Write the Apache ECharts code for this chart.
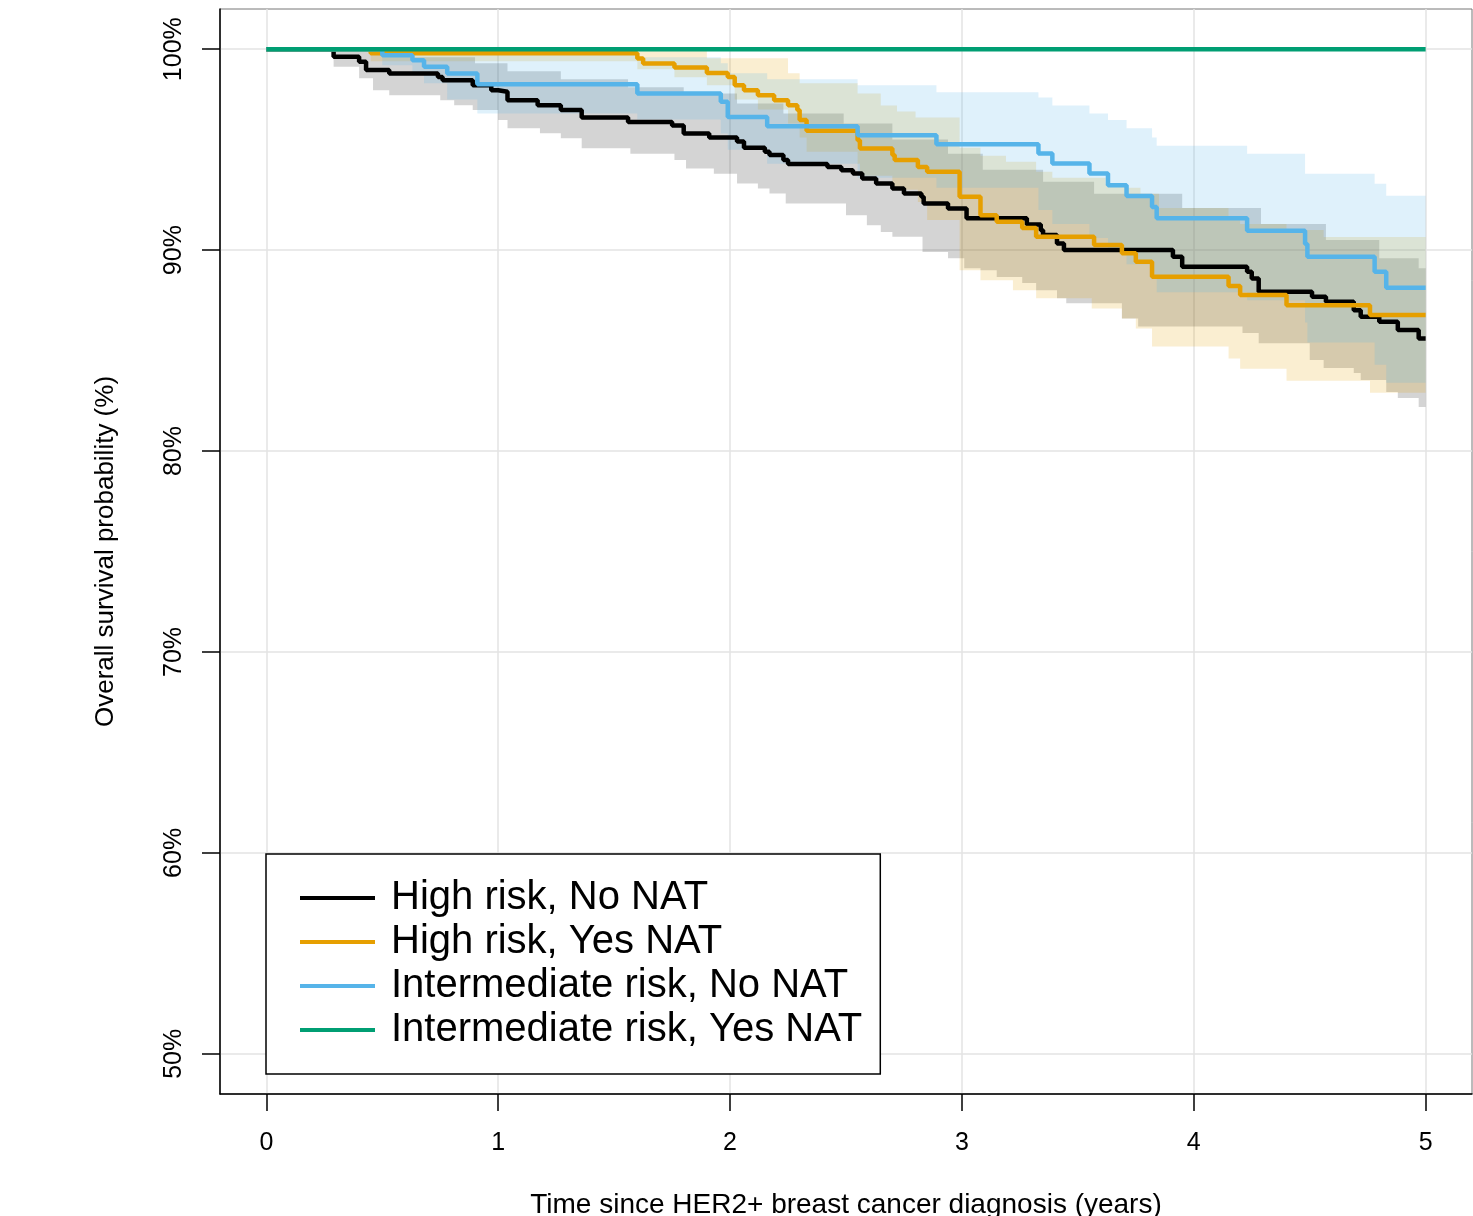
<!DOCTYPE html>
<html>
<head>
<meta charset="utf-8">
<script src="https://cdn.jsdelivr.net/npm/echarts@6/dist/echarts.min.js"></script>
<style>
  html, body { margin: 0; padding: 0; background: #fff; }
  #main { width: 1473px; height: 1216px; }
</style>
</head>
<body>
<div id="main"></div>
<script>
    // Kaplan-Meier steps: [years, survival %] (value holds until next time)
    var highNoNAT = [[0,100],[0.29,99.62],[0.40,99.37],[0.43,98.96],[0.53,98.79],[0.74,98.62],[0.76,98.46],[0.89,98.21],[0.97,97.96],[1.0,97.88],[1.04,97.46],[1.17,97.21],[1.27,96.97],[1.36,96.6],[1.56,96.38],[1.75,96.2],[1.80,95.8],[1.91,95.6],[2.03,95.4],[2.06,95.1],[2.15,94.9],[2.17,94.73],[2.23,94.48],[2.25,94.28],[2.42,94.14],[2.48,93.98],[2.53,93.81],[2.57,93.57],[2.63,93.32],[2.70,93.07],[2.75,92.82],[2.825,92.65],[2.835,92.32],[2.94,92.07],[3.02,91.58],[3.28,91.27],[3.34,90.99],[3.35,90.75],[3.41,90.33],[3.44,90.0],[3.91,89.67],[3.95,89.17],[4.23,88.92],[4.25,88.59],[4.28,87.93],[4.51,87.68],[4.57,87.43],[4.69,87.01],[4.72,86.68],[4.80,86.43],[4.88,86.02],[4.97,85.6],[5,85.6]];
    var highYesNAT = [[0,100],[0.45,99.8],[1.60,99.54],[1.625,99.29],[1.76,99.09],[1.90,98.82],[1.99,98.62],[2.02,98.21],[2.06,97.96],[2.12,97.71],[2.19,97.46],[2.25,97.21],[2.29,96.97],[2.30,96.47],[2.33,95.94],[2.55,95.47],[2.56,95.06],[2.70,94.73],[2.71,94.48],[2.81,94.14],[2.85,93.9],[2.99,92.65],[3.08,91.74],[3.15,91.41],[3.26,91.1],[3.32,90.66],[3.57,90.25],[3.69,89.84],[3.75,89.42],[3.82,88.67],[4.15,88.22],[4.20,87.76],[4.40,87.26],[4.76,86.77],[5,86.77]];
    var intermNoNAT = [[0,100],[0.50,99.7],[0.63,99.45],[0.68,99.12],[0.78,98.79],[0.91,98.25],[1.60,97.8],[1.96,97.38],[1.99,96.63],[2.16,96.17],[2.55,95.72],[2.89,95.27],[3.33,94.81],[3.39,94.31],[3.55,93.81],[3.63,93.23],[3.71,92.69],[3.82,92.15],[3.84,91.58],[4.23,90.96],[4.48,90.3],[4.49,89.67],[4.78,88.92],[4.83,88.13],[5,88.13]];
    var intermYesNAT = [[0,100],[5,100]];

    // 95% confidence bands, lower / upper edges as steps
    var highNoLower = [[0.29,99.12],[0.40,98.55],[0.46,97.96],[0.53,97.71],[0.75,97.46],[0.81,97.21],[0.89,96.97],[1.0,96.47],[1.04,96.07],[1.18,95.82],[1.27,95.57],[1.36,95.07],[1.57,94.8],[1.76,94.48],[1.81,94.06],[1.93,93.8],[2.03,93.32],[2.12,93.07],[2.17,92.82],[2.24,92.32],[2.50,91.74],[2.59,91.24],[2.65,90.9],[2.70,90.66],[2.83,89.9],[2.94,89.6],[3.01,89.1],[3.08,89.0],[3.15,88.66],[3.26,88.36],[3.32,88.0],[3.41,87.6],[3.45,87.36],[3.69,86.6],[3.76,86.2],[4.21,85.87],[4.28,85.37],[4.50,84.53],[4.56,84.13],[4.69,83.88],[4.72,83.53],[4.83,82.94],[4.88,82.64],[4.97,82.19],[5,82.19]];
    var highNoUpper = [[0.29,100],[0.62,99.6],[0.90,99.3],[1.04,98.9],[1.27,98.5],[1.56,98.1],[1.80,97.8],[2.03,97.3],[2.23,96.8],[2.49,96.3],[2.70,95.5],[2.94,94.8],[3.09,94.0],[3.35,93.4],[3.57,92.8],[3.95,92.1],[4.29,91.3],[4.57,90.5],[4.80,89.6],[4.97,89.1],[5,89.1]];
    var highYesLower = [[0.45,99.4],[1.60,99.0],[1.76,98.6],[1.90,98.2],[2.02,97.5],[2.12,97.0],[2.25,96.3],[2.30,95.6],[2.33,94.9],[2.55,94.3],[2.56,93.7],[2.70,93.0],[2.81,92.4],[2.85,91.5],[2.99,89.0],[3.08,88.5],[3.22,88.0],[3.32,87.6],[3.56,87.1],[3.69,86.6],[3.75,86.1],[3.82,85.2],[4.15,84.6],[4.20,84.1],[4.40,83.5],[4.76,82.9],[5,82.9]];
    var highYesUpper = [[0.45,100],[1.90,99.55],[2.25,98.8],[2.30,98.3],[2.55,97.8],[2.65,97.2],[2.72,96.9],[2.80,96.6],[2.99,95.1],[3.08,94.7],[3.19,94.4],[3.32,93.9],[3.39,93.6],[3.62,93.3],[3.71,93.1],[3.77,92.8],[3.85,92.1],[4.15,91.5],[4.20,91.3],[4.40,91.0],[4.56,90.65],[5,90.65]];
    var intermNoLower = [[0.50,99.2],[0.63,98.8],[0.68,98.3],[0.78,97.5],[0.91,96.8],[1.60,96.5],[1.96,95.8],[1.99,95.0],[2.16,94.3],[2.55,93.6],[2.89,93.1],[3.33,92.0],[3.39,91.3],[3.55,90.6],[3.63,89.9],[3.71,89.3],[3.82,88.7],[3.84,87.9],[4.23,87.5],[4.48,86.4],[4.49,85.4],[4.78,84.3],[4.83,83.4],[5,83.4]];
    var intermNoUpper = [[0.50,100],[1.60,99.6],[1.96,99.3],[1.99,98.8],[2.16,98.5],[2.55,98.2],[2.89,97.86],[3.33,97.6],[3.39,97.2],[3.55,96.8],[3.63,96.47],[3.71,96.07],[3.82,95.6],[3.84,95.2],[4.23,94.8],[4.48,93.8],[4.78,93.3],[4.83,92.7],[5,92.7]];

    var xTicks = [0, 1, 2, 3, 4, 5];
    var yTicks = [50, 60, 70, 80, 90, 100];
    var names = ['High risk, No NAT', 'High risk, Yes NAT', 'Intermediate risk, No NAT', 'Intermediate risk, Yes NAT'];
    var colors = ['#000000', '#E69F00', '#56B4E9', '#009E73'];

    var font = '"Liberation Sans", Arial, sans-serif';

    // step polygon: upper edge forward, lower edge backward
    function bandSeries(upper, lower, fill) {
        return {
            type: 'custom',
            silent: true,
            clip: true,
            z: 1,
            data: [0],
            renderItem: function (params, api) {
                var pts = [];
                for (var i = 0; i < upper.length - 1; i++) {
                    pts.push(api.coord([upper[i][0], upper[i][1]]));
                    pts.push(api.coord([upper[i + 1][0], upper[i][1]]));
                }
                for (var j = lower.length - 2; j >= 0; j--) {
                    pts.push(api.coord([lower[j + 1][0], lower[j][1]]));
                    pts.push(api.coord([lower[j][0], lower[j][1]]));
                }
                return { type: 'polygon', shape: { points: pts }, style: { fill: fill } };
            }
        };
    }

    function kmSeries(name, data, color) {
        return {
            name: name,
            type: 'line',
            step: 'end',
            data: data,
            showSymbol: false,
            z: 3,
            lineStyle: { color: color, width: 4.5 },
            itemStyle: { color: color }
        };
    }

    var myChart = echarts.init(document.getElementById('main'));

    var option = {
        backgroundColor: '#fff',
        animation: false,
        grid: {
            left: 220, right: 1, top: 9, bottom: 122,
            outerBoundsMode: 'none',
            containLabel: false,
            show: true, borderColor: '#777', borderWidth: 1
        },
        legend: {
            data: names,
            orient: 'vertical',
            left: 266,
            top: 854,
            icon: 'rect',
            itemWidth: 75,
            itemHeight: 4,
            itemGap: 0,
            padding: [22, 18, 22, 34],
            backgroundColor: '#fff',
            borderColor: '#000',
            borderWidth: 1.5,
            textStyle: { fontFamily: font, fontSize: 40, color: '#000', lineHeight: 44, padding: [0, 0, 0, 11] }
        },
        xAxis: {
            type: 'value',
            min: -0.2,
            max: 5.2,
            name: 'Time since HER2+ breast cancer diagnosis (years)',
            nameLocation: 'middle',
            nameGap: 97,
            nameTextStyle: { fontFamily: font, fontSize: 28, color: '#000' },
            axisLine: { show: true, onZero: false, lineStyle: { color: '#000', width: 1.5 } },
            axisTick: { show: true, customValues: xTicks, length: 17, lineStyle: { color: '#000', width: 1.5 } },
            axisLabel: { customValues: xTicks, margin: 37, fontFamily: font, fontSize: 25, color: '#000' },
            splitLine: { show: true, lineStyle: { color: '#e3e3e3', width: 1.5 } }
        },
        yAxis: {
            type: 'value',
            min: 48,
            max: 102,
            name: 'Overall survival probability (%)',
            nameLocation: 'middle',
            nameGap: 101,
            nameTextStyle: { fontFamily: font, fontSize: 26, color: '#000' },
            axisLine: { show: true, onZero: false, lineStyle: { color: '#000', width: 1.5 } },
            axisTick: { show: true, customValues: yTicks, length: 18, lineStyle: { color: '#000', width: 1.5 } },
            axisLabel: {
                customValues: yTicks, rotate: 90, margin: 33,
                fontFamily: font, fontSize: 25, color: '#000',
                formatter: '{value}%'
            },
            splitLine: { show: true, lineStyle: { color: '#e3e3e3', width: 1.5 } }
        },
        series: [
            bandSeries(highNoUpper, highNoLower, 'rgba(0,0,0,0.17)'),
            bandSeries(highYesUpper, highYesLower, 'rgba(230,159,0,0.18)'),
            bandSeries(intermNoUpper, intermNoLower, 'rgba(86,180,233,0.19)'),
            kmSeries(names[0], highNoNAT, colors[0]),
            kmSeries(names[1], highYesNAT, colors[1]),
            kmSeries(names[2], intermNoNAT, colors[2]),
            kmSeries(names[3], intermYesNAT, colors[3])
        ]
    };

    myChart.setOption(option);
</script>
</body>
</html>
